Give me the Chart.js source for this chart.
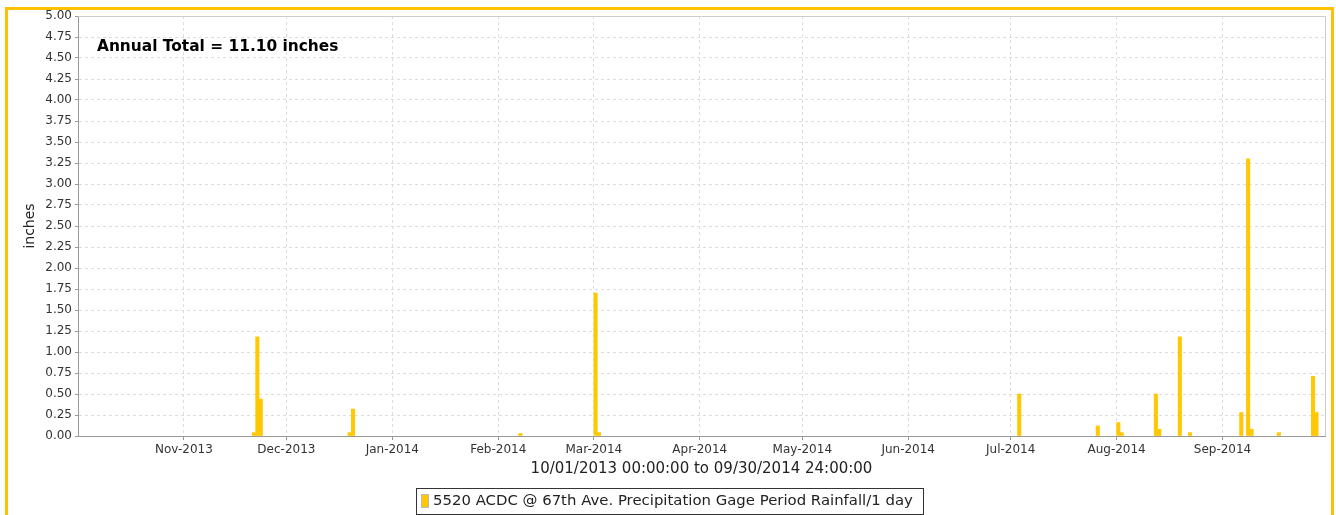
<!DOCTYPE html>
<html>
<head>
<meta charset="utf-8">
<script src="https://cdn.jsdelivr.net/npm/chart.js@4/dist/chart.umd.min.js"></script>
<style>
  html, body { margin: 0; padding: 0; background: #fff; overflow: hidden; width: 1336px; height: 515px; }
  #c { position: absolute; left: 0; top: 0; }
  #frame { position: absolute; left: 5px; top: 7px; width: 1323px; height: 600px; border: 3px solid #FFC000; pointer-events: none; box-sizing: content-box; }
</style>
</head>
<body>
<canvas id="c" width="1336" height="515"></canvas>
<div id="frame"></div>
<script>
// ---- Data ----
const rainDates = ['2013-11-21','2013-11-22','2013-11-23','2013-12-19','2013-12-20','2014-02-07','2014-03-01','2014-03-02',
  '2014-07-03','2014-07-26','2014-08-01','2014-08-02','2014-08-12','2014-08-13','2014-08-19','2014-08-22',
  '2014-09-06','2014-09-08','2014-09-09','2014-09-17','2014-09-27','2014-09-28'];
const rainInches = [0.04, 1.18, 0.44, 0.04, 0.32, 0.03, 1.70, 0.04,
  0.50, 0.12, 0.16, 0.04, 0.50, 0.08, 1.18, 0.04,
  0.28, 3.30, 0.08, 0.04, 0.71, 0.28];
const monthStarts = ['2013-11-01','2013-12-01','2014-01-01','2014-02-01','2014-03-01','2014-04-01','2014-05-01',
  '2014-06-01','2014-07-01','2014-08-01','2014-09-01'];
const monthLabels = ['Nov-2013','Dec-2013','Jan-2014','Feb-2014','Mar-2014','Apr-2014','May-2014',
  'Jun-2014','Jul-2014','Aug-2014','Sep-2014'];
const periodStart = '2013-10-01';
const periodEnd = '2014-10-01';
const seriesLabel = '5520 ACDC @ 67th Ave. Precipitation Gage Period Rainfall/1 day';
const xTitle = '10/01/2013 00:00:00 to 09/30/2014 24:00:00';
const yTitle = 'inches';
const annualTotalText = 'Annual Total = 11.10 inches';

// ---- helpers ----
function dayIndex(s) {
  const p = s.split('-').map(Number);
  const q = periodStart.split('-').map(Number);
  return Math.round((Date.UTC(p[0], p[1]-1, p[2]) - Date.UTC(q[0], q[1]-1, q[2])) / 86400000);
}
const barColor = '#FFC800';
const points = rainDates.map((d, i) => ({ x: dayIndex(d) + 0.5, y: rainInches[i] }));
const monthTickValues = monthStarts.map(dayIndex);
const FONT = '"DejaVu Sans", sans-serif';

const extras = {
  id: 'extras',
  afterDatasetsDraw(chart) {
    const { ctx, chartArea: a } = chart;
    ctx.save();
    ctx.strokeStyle = '#cccccc';
    ctx.lineWidth = 1;
    ctx.beginPath();
    ctx.moveTo(a.left, Math.round(a.top) + 0.5);
    ctx.lineTo(Math.round(a.right) + 0.5, Math.round(a.top) + 0.5);
    ctx.lineTo(Math.round(a.right) + 0.5, a.bottom);
    ctx.stroke();
    ctx.restore();
  },
  afterDraw(chart) {
    const { ctx } = chart;
    ctx.save();
    // annotation
    ctx.fillStyle = '#000';
    ctx.font = 'bold 15.4px ' + FONT;
    ctx.textBaseline = 'middle';
    ctx.textAlign = 'left';
    ctx.fillText(annualTotalText, 97, 47);
    // legend box
    ctx.strokeStyle = '#333';
    ctx.lineWidth = 1;
    ctx.strokeRect(416.5, 488.5, 507, 26);
    ctx.fillStyle = chart.data.datasets[0].backgroundColor;
    ctx.fillRect(422, 495, 7, 13);
    ctx.strokeStyle = '#bbb';
    ctx.strokeRect(421.5, 494.5, 7, 13);
    ctx.fillStyle = '#222';
    ctx.font = '14.9px ' + FONT;
    ctx.fillText(chart.data.datasets[0].label, 433, 501.5);
    ctx.restore();
  }
};

new Chart(document.getElementById('c'), {
  type: 'bar',
  data: {
    datasets: [{
      label: seriesLabel,
      data: points,
      backgroundColor: barColor,
      borderWidth: 0,
      barThickness: 3.4
    }]
  },
  options: {
    responsive: false,
    animation: false,
    devicePixelRatio: 1,
    layout: { padding: { left: 0, top: 16, right: 11, bottom: 0 } },
    plugins: { legend: { display: false }, tooltip: { enabled: false } },
    scales: {
      x: {
        type: 'linear',
        offset: false,
        min: dayIndex(periodStart),
        max: dayIndex(periodEnd),
        afterBuildTicks(scale) { scale.ticks = monthTickValues.map(v => ({ value: v })); },
        afterFit(scale) { scale.height = 79; },
        ticks: {
          autoSkip: false, maxRotation: 0, minRotation: 0, padding: 3,
          color: '#333', font: { family: FONT, size: 12 },
          callback: (v, i) => monthLabels[i]
        },
        grid: { offset: false, color: '#dddddd', lineWidth: 1, drawTicks: true, tickLength: 4, tickColor: '#999', tickBorderDash: [] },
        border: { display: true, color: '#999', width: 1, dash: [3, 3] },
        title: { display: true, text: xTitle, color: '#222', font: { family: FONT, size: 15 }, padding: { top: 0, bottom: 37 } }
      },
      y: {
        min: 0, max: 5,
        afterFit(scale) { scale.width = 78; },
        ticks: {
          stepSize: 0.25, padding: 3, color: '#333', font: { family: FONT, size: 12 },
          callback: v => Number(v).toFixed(2)
        },
        grid: { color: '#dddddd', lineWidth: 1, drawTicks: true, tickLength: 3, tickColor: '#999', tickBorderDash: [] },
        border: { display: true, color: '#999', width: 1, dash: [3, 3] },
        title: { display: true, text: yTitle, color: '#222', font: { family: FONT, size: 14 }, padding: { top: 22, bottom: 0 } }
      }
    }
  },
  plugins: [extras]
});
</script>
</body>
</html>
